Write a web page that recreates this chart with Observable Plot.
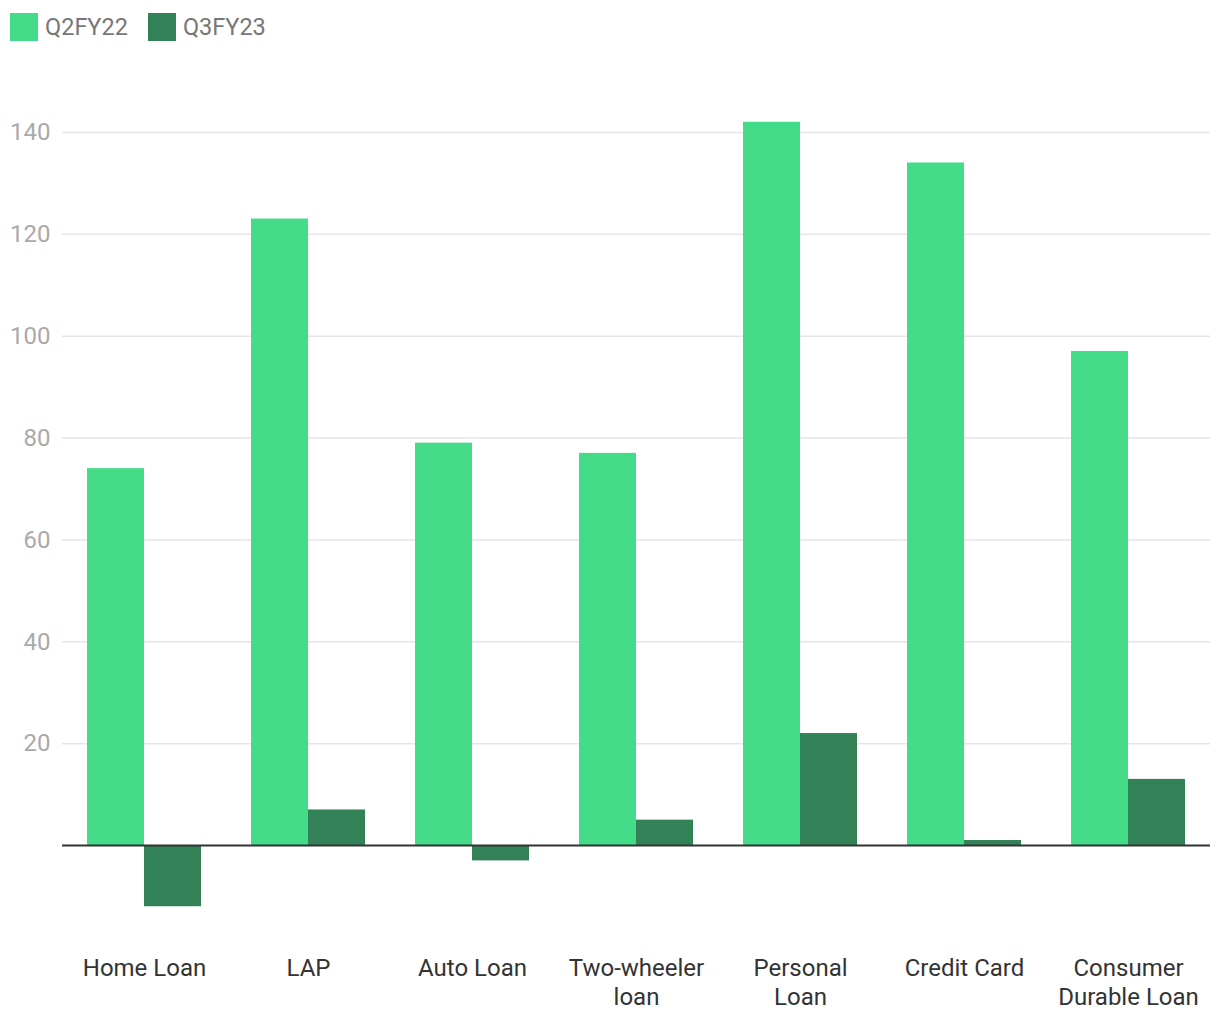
<!DOCTYPE html>
<html><head><meta charset="utf-8">
<script src="https://cdn.jsdelivr.net/npm/d3@7"></script>
<script src="https://cdn.jsdelivr.net/npm/@observablehq/plot@0.6"></script>
<style>
html,body{margin:0;padding:0;background:#fff;}
body{font-family:Roboto, sans-serif;}
#wrap{position:relative;width:1220px;height:1020px;}
#legend{position:absolute;left:10px;top:13px;display:flex;align-items:center;font-size:23.5px;color:#777;line-height:28px;z-index:2;}
.sw{width:28px;height:28px;margin-right:7px;}
.item{display:flex;align-items:center;margin-right:20px;}
</style></head><body>
<div id="wrap"><div id="legend"></div><div id="chart"></div></div>
<script>
const categories = ["Home Loan","LAP","Auto Loan","Two-wheeler loan","Personal Loan","Credit Card","Consumer Durable Loan"];
const tickLabels = ["Home Loan","LAP","Auto Loan","Two-wheeler\nloan","Personal\nLoan","Credit Card","Consumer\nDurable Loan"];
const series = ["Q2FY22","Q3FY23"];
const q2fy22 = [74,123,79,77,142,134,97];
const q3fy23 = [-12,7,-3,5,22,1,13];
const colors = ["#44dc89","#338156"];
const yTicks = [20,40,60,80,100,120,140];

const data = categories.flatMap((c,i)=>[
  {category:c, series:series[0], value:q2fy22[i]},
  {category:c, series:series[1], value:q3fy23[i]}
]);

const legend = document.getElementById("legend");
series.forEach((s,i)=>{
  const it = document.createElement("div"); it.className="item";
  const sw = document.createElement("div"); sw.className="sw"; sw.style.background=colors[i];
  const t = document.createElement("span"); t.textContent=s;
  it.appendChild(sw); it.appendChild(t); legend.appendChild(it);
});

const chart = Plot.plot({
  width:1220, height:1020, marginLeft:62, marginRight:10, marginTop:81, marginBottom:73,
  style:{fontFamily:"Roboto, sans-serif", background:"#fff"},
  fx:{domain:categories, padding:0, label:null},
  x:{domain:series, paddingInner:0, paddingOuter:0.43, axis:null},
  y:{domain:[-20,150], label:null},
  color:{domain:series, range:colors},
  marks:[
    Plot.gridY(yTicks,{stroke:"#e5e5e5", strokeOpacity:1, strokeWidth:1.5}),
    Plot.barY(data,{fx:"category", x:"series", y:"value", fill:"series"}),
    Plot.ruleY([0],{stroke:"#333", strokeWidth:2}),
    Plot.axisY(yTicks,{tickSize:0, tickPadding:12, fontSize:24, color:"#aaa", label:null}),
    Plot.axisFx({anchor:"bottom", tickSize:0, tickPadding:9, fontSize:24, color:"#333", lineHeight:1.17,
      tickFormat:(d)=>tickLabels[categories.indexOf(d)], label:null})
  ]
});
document.getElementById("chart").appendChild(chart);
</script>
</body></html>
